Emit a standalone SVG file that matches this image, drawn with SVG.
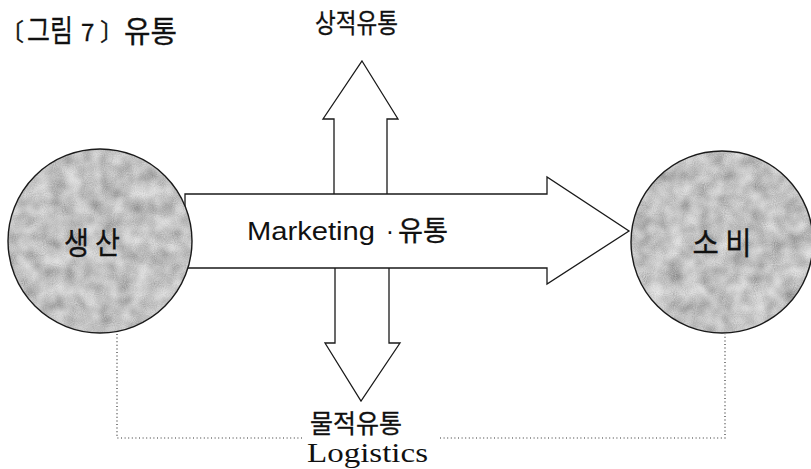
<svg xmlns="http://www.w3.org/2000/svg" width="811" height="469" viewBox="0 0 811 469">
<style>
.ol{fill:#fff;stroke:#1a1a1a;stroke-width:1.3;stroke-linejoin:miter}
.dot{fill:none;stroke:#333;stroke-width:1.2;stroke-dasharray:1 2.6}
.kr{font-family:"Noto Sans CJK KR","Noto Sans",sans-serif;fill:#111;stroke:#111;stroke-width:0.3}
.en{font-family:"Liberation Sans",Arial,sans-serif;fill:#111}
.sf{font-family:"Liberation Serif","Times New Roman",serif;fill:#111}
.circ{stroke:#1a1a1a;stroke-width:1.4}
</style>
<defs>
<filter id="tex" x="0" y="0" width="100%" height="100%">
<feTurbulence type="fractalNoise" baseFrequency="0.06" numOctaves="2" seed="5" result="n"/>
<feTurbulence type="fractalNoise" baseFrequency="0.9" numOctaves="1" seed="2" result="f"/>
<feComposite in="n" in2="f" operator="arithmetic" k1="0" k2="0.75" k3="0.35" k4="0" result="m"/>
<feColorMatrix in="m" type="matrix" values="0.85 0 0 0 0.11  0.85 0 0 0 0.11  0.85 0 0 0 0.11  0 0 0 0 1" result="g"/>
<feComposite in="g" in2="SourceGraphic" operator="in"/>
</filter>
</defs>
<g id="title">
<text class="kr" x="0" y="40" font-size="24">〔</text>
<text class="kr" x="27" y="41" font-size="30" textLength="46" lengthAdjust="spacingAndGlyphs">그림</text>
<text class="kr" x="81" y="41" font-size="24">7</text>
<text class="kr" x="100" y="40" font-size="24">〕</text>
<text class="kr" x="124" y="42" font-size="30" textLength="53" lengthAdjust="spacingAndGlyphs">유통</text>
</g>
<g id="connectors">
<polygon id="arrow-up" class="ol" points="362,61 398,119 387,119 387,200 334,200 334,119 323,119"/>
<polygon id="arrow-down" class="ol" points="335,262 389,262 389,343 400,343 361,401 325,343 335,343"/>
<polygon id="arrow-main" class="ol" points="185,194 547,194 547,177 629,231 547,284 547,268 185,268"/>
<polyline class="dot" points="117,334 117,438 303,438"/>
<polyline class="dot" points="440,438 725,438 725,334"/>
</g>
<g id="node-production">
<circle cx="100" cy="241" r="92" fill="#fff"/>
<circle cx="100" cy="241" r="92" fill="#999" filter="url(#tex)"/>
<circle class="circ" cx="100" cy="241" r="92" fill="none"/>
<text class="kr" x="92" y="254" font-size="31" text-anchor="middle" textLength="56" lengthAdjust="spacingAndGlyphs" stroke-width="0.6">생 산</text>
</g>
<g id="node-consumption">
<circle cx="722" cy="242" r="91" fill="#fff"/>
<circle cx="722" cy="242" r="91" fill="#999" filter="url(#tex)"/>
<circle class="circ" cx="722" cy="242" r="91" fill="none"/>
<text class="kr" x="722" y="254" font-size="31" text-anchor="middle" textLength="59" lengthAdjust="spacingAndGlyphs" stroke-width="0.6">소 비</text>
</g>
<g id="labels">
<text class="en" x="247" y="240" font-size="25" textLength="128" lengthAdjust="spacingAndGlyphs">Marketing</text>
<text class="en" x="390" y="240" font-size="25" text-anchor="middle">·</text>
<text class="kr" x="398" y="241" font-size="28" textLength="50" lengthAdjust="spacingAndGlyphs">유통</text>
<text class="kr" x="315" y="33" font-size="27" textLength="83" lengthAdjust="spacingAndGlyphs">상적유통</text>
<text class="kr" x="310" y="433" font-size="26" textLength="92" lengthAdjust="spacingAndGlyphs">물적유통</text>
<text class="sf" x="307" y="462" font-size="27" textLength="121" lengthAdjust="spacingAndGlyphs">Logistics</text>
</g>
</svg>
